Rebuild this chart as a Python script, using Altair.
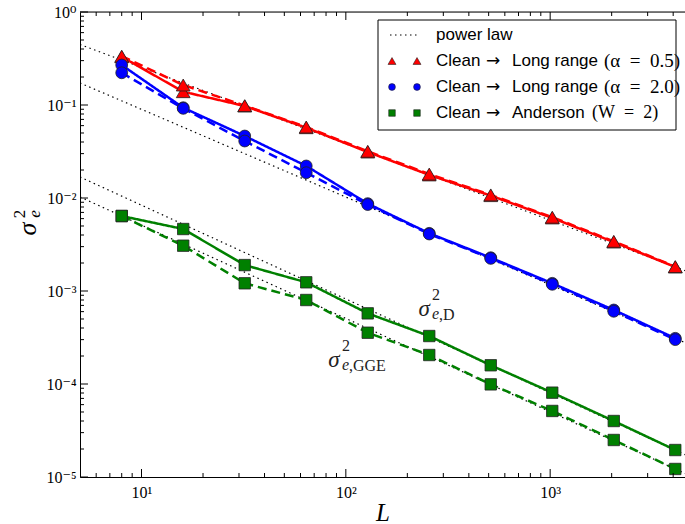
import altair as alt
import pandas as pd

# ---------------- data ----------------
L = [8, 16, 32, 64, 128, 256, 512, 1024, 2048, 4096]

red_D = [0.330, 0.139, 0.0975, 0.0570, 0.0312, 0.0177, 0.0106, 0.00610, 0.00336, 0.00181]
red_GGE = [0.335, 0.164, 0.0985, 0.0580, 0.0318, 0.0181, 0.0108, 0.00622, 0.00342, 0.00183]

blue_D = [0.269, 0.0935, 0.0464, 0.0221, 0.00870, 0.00417, 0.00228, 0.00121, 0.000625, 0.000310]
blue_GGE = [0.222, 0.0920, 0.0410, 0.0187, 0.00850, 0.00410, 0.00224, 0.00118, 0.000605, 0.000300]

green_D = [0.0064, 0.00464, 0.00190, 0.00124, 0.000575, 0.000328, 0.000159, 8.07e-05, 4.00e-05, 1.95e-05]
green_GGE = [0.0064, 0.00307, 0.00121, 0.00080, 0.000356, 0.000205, 9.91e-05, 5.13e-05, 2.50e-05, 1.22e-05]

# power-law guide lines (end points)
pl_L = [5, 5000]
pl_1 = [0.447, 0.00154]
pl_2 = [0.1726, 0.000256]
pl_3 = [0.01683, 1.59e-05]
pl_4 = [0.01026, 9.98e-06]

x_major = [10, 100, 1000]
x_minor = [6, 7, 8, 9, 20, 30, 40, 50, 60, 70, 80, 90,
           200, 300, 400, 500, 600, 700, 800, 900, 2000, 3000, 4000]
y_major = [1, 0.1, 0.01, 0.001, 0.0001, 0.00001]
y_minor = [m * d for d in [1e-5, 1e-4, 1e-3, 1e-2, 1e-1] for m in [2, 3, 4, 5, 6, 7, 8, 9]]

legend_first = ["power law", "Clean", "Clean", "Clean"]
legend_name = ["", "Long range", "Long range", "Anderson"]
legend_math = ["",
               "(\u03b1\u2002=\u20020.5)",
               "(\u03b1\u2002=\u20022.0)",
               "(W\u2002=\u20022)"]

# ---------------- tables ----------------
rows = []
for name, d, g in [("red", red_D, red_GGE), ("blue", blue_D, blue_GGE), ("green", green_D, green_GGE)]:
    for l, v in zip(L, d):
        rows.append(dict(L=l, val=v, series=name, kind="D"))
    for l, v in zip(L, g):
        rows.append(dict(L=l, val=v, series=name, kind="GGE"))
df = pd.DataFrame(rows)

pl_rows = []
for i, vals in enumerate([pl_1, pl_2, pl_3, pl_4]):
    for l, v in zip(pl_L, vals):
        pl_rows.append(dict(L=l, val=v, pl=i))
df_pl = pd.DataFrame(pl_rows)

W, H = 605, 465
SERIF = "Liberation Serif, DejaVu Serif, serif"
SANS = "Liberation Sans, Arial, sans-serif"

xs = alt.Scale(type="log", domain=[5, 4570], nice=False)
ys = alt.Scale(type="log", domain=[1e-5, 1], nice=False)

xlab = "datum.value < 50 ? '10\u00b9' : datum.value < 500 ? '10\u00b2' : '10\u00b3'"
ylab = ("datum.value > 0.5 ? '10\u2070' : datum.value > 0.05 ? '10\u207b\u00b9' : "
        "datum.value > 0.005 ? '10\u207b\u00b2' : datum.value > 0.0005 ? '10\u207b\u00b3' : "
        "datum.value > 0.00005 ? '10\u207b\u2074' : '10\u207b\u2075'")

xax = alt.Axis(values=x_major, labelExpr=xlab, ticks=False, grid=False,
               domainColor="black", domainWidth=1, labelColor="black",
               labelFont=SERIF, labelFontSize=16, labelPadding=7,
               title="L", titleFont=SERIF, titleFontStyle="italic",
               titleFontWeight="normal", titleFontSize=25, titlePadding=0,
               titleColor="black")
yax = alt.Axis(values=y_major, labelExpr=ylab, ticks=False, grid=False,
               domainColor="black", domainWidth=1, labelColor="black",
               labelFont=SERIF, labelFontSize=16, labelPadding=4, title=None)

X = alt.X("L:Q", scale=xs, axis=xax)
Y = alt.Y("val:Q", scale=ys, axis=yax)

layers = []

# power-law dotted lines
layers.append(
    alt.Chart(df_pl).mark_line(clip=True, color="black", strokeWidth=1.2,
                               strokeDash=[1.5, 3.5])
    .encode(x=X, y=Y, detail="pl:N")
)

# data lines
layers.append(
    alt.Chart(df).mark_line(strokeWidth=2.5, clip=True)
    .encode(
        x=X, y=Y,
        color=alt.Color("series:N", scale=alt.Scale(domain=["red", "blue", "green"],
                                                   range=["#ff0000", "#0000ff", "#008000"]),
                        legend=None),
        strokeDash=alt.StrokeDash("kind:N", scale=alt.Scale(domain=["D", "GGE"],
                                                           range=[[1, 0], [9, 5]]),
                                  legend=None),
        detail="series:N",
    )
)

marker_specs = [("red", "triangle-up", "#ff0000", 190),
                ("blue", "circle", "#0000ff", 140),
                ("green", "square", "#008000", 130)]
for name, shape, col, size in marker_specs:
    layers.append(
        alt.Chart(df[df.series == name]).mark_point(
            shape=shape, filled=True, fill=col, stroke="#222222", strokeWidth=0.8,
            size=size, opacity=1
        ).encode(x=X, y=Y)
    )

# ticks (inside, bottom / top / left)
df_xM = pd.DataFrame({"L": x_major})
df_xm = pd.DataFrame({"L": x_minor})
df_yM = pd.DataFrame({"val": y_major})
df_ym = pd.DataFrame({"val": y_minor})
for d, ln in [(df_xM, 8), (df_xm, 4)]:
    layers.append(alt.Chart(d).mark_rule(color="black", strokeWidth=1)
                  .encode(x=X, y=alt.value(H), y2=alt.value(H - ln)))
    layers.append(alt.Chart(d).mark_rule(color="black", strokeWidth=1)
                  .encode(x=X, y=alt.value(0), y2=alt.value(ln)))
for d, ln in [(df_yM, 8), (df_ym, 4)]:
    layers.append(alt.Chart(d).mark_rule(color="black", strokeWidth=1)
                  .encode(y=Y, x=alt.value(0), x2=alt.value(ln)))

one = pd.DataFrame({"d": [0]})

# top frame line
layers.append(alt.Chart(one).mark_rule(color="black", strokeWidth=1)
              .encode(x=alt.value(0), x2=alt.value(W), y=alt.value(0)))

# annotations sigma^2_{e,D} and sigma^2_{e,GGE}
ann = pd.DataFrame({"L": [241.5, 87.5], "val": [6.4e-4, 1.81e-4],
                    "sub": [",D", ",GGE"]})
layers.append(alt.Chart(ann).mark_text(font=SERIF, fontSize=23, fontStyle="italic",
                                       align="center", baseline="middle", color="#222")
              .encode(x=X, y=Y, text=alt.value("\u03c3")))
layers.append(alt.Chart(ann).mark_text(font=SERIF, fontSize=16, align="center",
                                       baseline="middle", dx=12, dy=-14, color="#222")
              .encode(x=X, y=Y, text=alt.value("2")))
layers.append(alt.Chart(ann).mark_text(font=SERIF, fontSize=16, fontStyle="italic",
                                       align="left", baseline="middle", dx=8, dy=5,
                                       color="#222")
              .encode(x=X, y=Y, text=alt.value("e")))
layers.append(alt.Chart(ann).mark_text(font=SERIF, fontSize=16, align="left",
                                       baseline="middle", dx=15, dy=6, color="#222")
              .encode(x=X, y=Y, text="sub:N"))

# y-axis title (rotated sigma^2_e)
layers.append(alt.Chart(one).mark_text(font=SERIF, fontSize=26, fontStyle="italic",
                                       angle=270, align="center", baseline="middle",
                                       color="black")
              .encode(x=alt.value(-52), y=alt.value(217), text=alt.value("\u03c3")))
layers.append(alt.Chart(one).mark_text(font=SERIF, fontSize=17, angle=270,
                                       align="center", baseline="middle", color="black")
              .encode(x=alt.value(-60), y=alt.value(202), text=alt.value("2")))
layers.append(alt.Chart(one).mark_text(font=SERIF, fontSize=17, fontStyle="italic",
                                       angle=270, align="center", baseline="middle",
                                       color="black")
              .encode(x=alt.value(-45), y=alt.value(202), text=alt.value("e")))

# legend box
LX0, LX1, LY0, LY1 = 298, 596, 8, 118
layers.append(alt.Chart(one).mark_rect(fill="white", stroke="black", strokeWidth=1)
              .encode(x=alt.value(LX0), x2=alt.value(LX1), y=alt.value(LY0), y2=alt.value(LY1)))
row_y = [23, 49, 75, 101]
layers.append(alt.Chart(one).mark_rule(color="black", strokeWidth=1.2, strokeDash=[1.5, 3.5])
              .encode(x=alt.value(310), x2=alt.value(338), y=alt.value(row_y[0])))
for (name, shape, col, size), ry in zip(marker_specs, row_y[1:]):
    for mx in [312, 337]:
        layers.append(alt.Chart(one).mark_point(shape=shape, filled=True, fill=col,
                                                stroke="#222222", strokeWidth=0.6,
                                                size=size * 0.33, opacity=1)
                      .encode(x=alt.value(mx), y=alt.value(ry)))
for i, ry in enumerate(row_y):
    layers.append(alt.Chart(one).mark_text(font=SANS, fontSize=17, align="left",
                                           baseline="middle", color="black")
                  .encode(x=alt.value(356), y=alt.value(ry), text=alt.value(legend_first[i])))
    if i > 0:
        layers.append(alt.Chart(one).mark_text(font="DejaVu Sans", fontSize=17, align="left",
                                               baseline="middle", color="black")
                      .encode(x=alt.value(406), y=alt.value(ry), text=alt.value("\u2192")))
        layers.append(alt.Chart(one).mark_text(font=SANS, fontSize=17, align="left",
                                               baseline="middle", color="black")
                      .encode(x=alt.value(432), y=alt.value(ry), text=alt.value(legend_name[i])))
        mx = 524 if i < 3 else 512
        fs = 19 if i < 3 else 18
        layers.append(alt.Chart(one).mark_text(font=SERIF, fontSize=fs, align="left",
                                               baseline="middle", color="black")
                      .encode(x=alt.value(mx), y=alt.value(ry), text=alt.value(legend_math[i])))

chart = (
    alt.layer(*layers)
    .properties(width=W, height=H,
                autosize=alt.AutoSizeParams(type="none"),
                padding={"left": 80, "top": 12, "right": 0, "bottom": 47})
    .configure_view(stroke=None)
    .configure(background="white")
)

chart.save("out.html", embed_options={"renderer": "svg", "actions": False})
